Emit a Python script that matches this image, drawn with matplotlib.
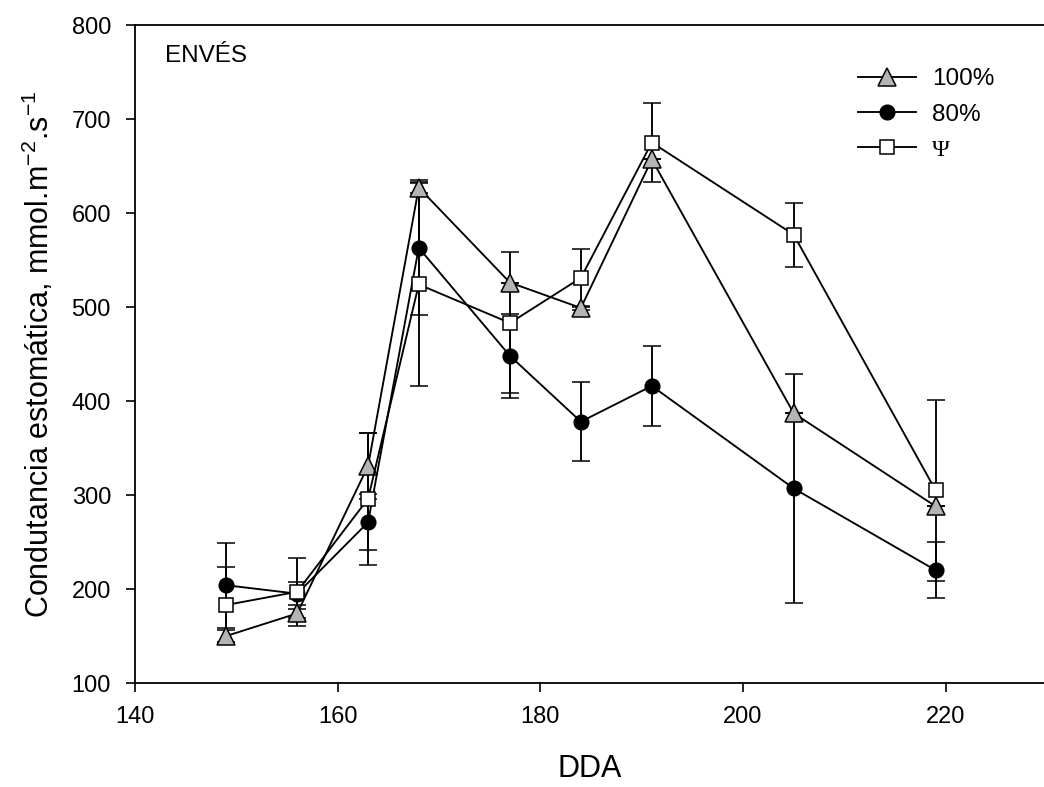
import matplotlib
matplotlib.use("Agg")
import matplotlib.pyplot as plt
from matplotlib.lines import Line2D

plt.rcParams["font.family"] = ["Liberation Sans", "DejaVu Sans"]
plt.rcParams["mathtext.default"] = "regular"

# DDA (days after planting) and stomatal conductance per treatment
dda = [149, 156, 163, 168, 177, 184, 191, 205, 219]

g100 = [150, 174, 331, 627, 526, 499, 657, 387, 288]
e100 = [6, 5, 35, 6, 0, 2, 0, 0, 0]

g80 = [204, 195, 271, 563, 448, 378, 416, 307, 220]
e80 = [45, 12, 30, 72, 45, 42, 43, 122, 30]

gpsi = [183, 197, 296, 524, 483, 531, 675, 577, 305]
epsi = [40, 36, 70, 108, 75, 31, 42, 34, 96]

labels = ["100%", "80%", "Ψ"]

fig = plt.figure(figsize=(10.44, 7.87), dpi=100)
ax = fig.add_axes([135 / 1044, 1 - 683 / 787, 1 - 135 / 1044, (683 - 25) / 787])

lw = 1.35
common = dict(color="black", linewidth=lw, elinewidth=lw, capsize=6.5,
              capthick=lw, markeredgecolor="black", markeredgewidth=1.1)
styles = [
    dict(marker="^", markersize=12.5, markerfacecolor="#b4b4b4"),
    dict(marker="o", markersize=10.5, markerfacecolor="black"),
    dict(marker="s", markersize=10.5, markerfacecolor="white"),
]

for ys, es, st in zip([g100, g80, gpsi], [e100, e80, epsi], styles):
    ax.errorbar(dda, ys, yerr=es, **st, **common)

ax.set_xlim(140, 229.7)
ax.set_ylim(100, 800)
ax.set_xticks([140, 160, 180, 200, 220])
ax.set_yticks(range(100, 801, 100))
ax.tick_params(direction="out", length=6.3, width=1.2, labelsize=17)
ax.tick_params(axis="x", pad=10)
ax.tick_params(axis="y", pad=11)
ax.spines["right"].set_visible(False)
for s in ("left", "bottom", "top"):
    ax.spines[s].set_linewidth(1.3)

ax.set_xlabel("DDA", fontsize=22, labelpad=19)
ax.set_ylabel("Condutancia estomática, mmol.m$^{-2}$.s$^{-1}$", fontsize=22, labelpad=11)

ax.text(0.033, 0.944, "ENVÉS", transform=ax.transAxes, fontsize=17.5,
        va="baseline", ha="left")

handles = [Line2D([], [], color="black", linewidth=lw, markeredgecolor="black",
                  markeredgewidth=1.1, **st) for st in styles]
leg = ax.legend(handles, labels, loc="upper left", bbox_to_anchor=(0.795, 0.934),
                frameon=False, fontsize=17.5, numpoints=1, handlelength=2.4,
                handletextpad=0.65, labelspacing=0.54, borderaxespad=0,
                borderpad=0)
for t in leg.get_texts():
    if t.get_text() == "Ψ":
        t.set_family(["Liberation Serif", "DejaVu Serif"])

fig.savefig("out.png", dpi=100)
